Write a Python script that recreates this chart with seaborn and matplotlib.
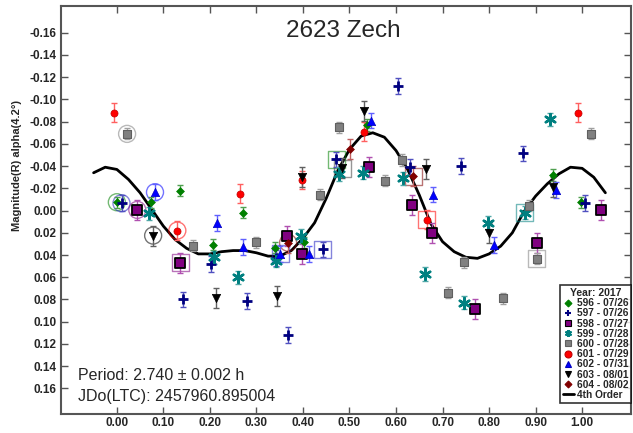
import seaborn as sns
import matplotlib.pyplot as plt
import pandas as pd
from matplotlib.lines import Line2D

sns.set_theme(style="white")
plt.rcParams['font.family'] = ['Liberation Sans', 'DejaVu Sans']

# session data: phase, magnitude
p596 = [0.000, 0.073, 0.136, 0.207, 0.271, 0.340, 0.402, 0.537, 0.938, 0.997]
m596 = [-0.0075, -0.0075, -0.018, 0.0306, 0.0018, 0.0335, 0.0285, -0.077, -0.032, -0.0075]

p597 = [0.010, 0.143, 0.203, 0.280, 0.343, 0.368, 0.442, 0.472, 0.605, 0.630, 0.739, 0.874, 1.007]
m597 = [-0.0066, 0.080, 0.048, 0.0815, 0.0425, 0.112, 0.035, -0.046, -0.112, -0.039, -0.040, -0.0515, -0.007]

p598 = [0.044, 0.136, 0.366, 0.397, 0.543, 0.635, 0.677, 0.770, 0.903, 1.041]
m598 = [-0.0006, 0.047, 0.0228, 0.039, -0.0395, -0.0054, 0.0198, 0.089, 0.029, -0.0006]

p599 = [0.069, 0.209, 0.261, 0.343, 0.396, 0.478, 0.529, 0.614, 0.663, 0.746, 0.797, 0.877, 0.930]
m599 = [0.0024, 0.042, 0.060, 0.045, 0.023, -0.033, -0.034, -0.029, 0.057, 0.083, 0.011, 0.0018, -0.082]

p600 = [0.022, 0.163, 0.300, 0.436, 0.478, 0.577, 0.612, 0.712, 0.747, 0.831, 0.885, 0.903, 1.020]
m600 = [-0.069, 0.0315, 0.0285, -0.0144, -0.075, -0.027, -0.0455, 0.074, 0.0467, 0.079, -0.0045, 0.0434, -0.069]

p601 = [-0.006, 0.130, 0.264, 0.398, 0.532, 0.666, 0.991]
m601 = [-0.088, 0.018, -0.015, -0.0275, -0.071, 0.0084, -0.088]

p602 = [0.082, 0.216, 0.271, 0.351, 0.414, 0.546, 0.680, 0.810, 0.944]
m602 = [-0.0165, 0.0114, 0.033, 0.039, 0.039, -0.081, -0.0144, 0.031, -0.0186]

p603 = [0.078, 0.213, 0.344, 0.399, 0.483, 0.532, 0.665, 0.799, 0.938]
m603 = [0.0225, 0.0785, 0.077, -0.0305, -0.038, -0.090, -0.0375, 0.020, -0.0216]

p604 = [0.368, 0.502, 0.637]
m604 = [0.029, -0.0554, -0.031]

# typical error per session
errs = [0.005, 0.007, 0.009, 0.006, 0.005, 0.0085, 0.007, 0.009, 0.009]

labels = ["596 - 07/26", "597 - 07/26", "598 - 07/27", "599 - 07/28", "600 - 07/28",
          "601 - 07/29", "602 - 07/31", "603 - 08/01", "604 - 08/02"]

# 4th order fit
fit_phase = [-0.05, -0.025, 0.0, 0.025, 0.05, 0.075, 0.10, 0.125, 0.15, 0.175, 0.20, 0.225,
             0.25, 0.275, 0.30, 0.325, 0.35, 0.375, 0.40, 0.425, 0.45, 0.475, 0.50, 0.525,
             0.55, 0.575, 0.60, 0.625, 0.65, 0.675, 0.70, 0.725, 0.75, 0.775, 0.80, 0.825,
             0.85, 0.875, 0.90, 0.925, 0.95, 0.975, 1.0, 1.025, 1.05]
fit_mag = [-0.034, -0.039, -0.037, -0.028, -0.016, -0.001, 0.014, 0.026, 0.034, 0.039, 0.039, 0.037,
           0.036, 0.036, 0.038, 0.041, 0.041, 0.036, 0.025, 0.011, -0.011, -0.036, -0.055, -0.067,
           -0.070, -0.066, -0.054, -0.037, -0.014, 0.012, 0.028, 0.037, 0.042, 0.043, 0.039, 0.032,
           0.020, 0.001, -0.013, -0.024, -0.033, -0.039, -0.038, -0.030, -0.016]

# highlighted points (open rings)
ring_phase = [0.000, 0.010, 0.044, 0.082, 0.078, 0.130, 0.022, 0.368,
              0.136, 0.351, 0.442, 0.472, 0.485, 0.637, 0.666, 0.877, 0.903]
ring_mag = [-0.0075, -0.0066, -0.0006, -0.0165, 0.0225, 0.018, -0.069, 0.029,
            0.047, 0.039, 0.035, -0.046, -0.038, -0.031, 0.0084, 0.0018, 0.0434]
ring_shape = ["o", "o", "o", "o", "o", "o", "o", "o",
              "s", "s", "s", "s", "s", "s", "s", "s", "s"]
ring_color = ["#008000", "#2020c0", "#800080", "#0000ff", "#000000", "#ff0000", "#808080", "#800000",
              "#800080", "#2020c0", "#2020c0", "#008000", "#404040", "#800000", "#ff0000", "#008080", "#808080"]

yticks = [-0.16, -0.14, -0.12, -0.10, -0.08, -0.06, -0.04, -0.02, 0.00,
          0.02, 0.04, 0.06, 0.08, 0.10, 0.12, 0.14, 0.16]
xticks = [0.0, 0.1, 0.2, 0.3, 0.4, 0.5, 0.6, 0.7, 0.8, 0.9, 1.0]

sessions = [(p596, m596), (p597, m597), (p598, m598), (p599, m599), (p600, m600),
            (p601, m601), (p602, m602), (p603, m603), (p604, m604)]
styles = [
    dict(marker="D", color="#008000", s=16, edgecolor="#008000", linewidth=0.5),
    dict(marker="+", color="#000080", s=55, linewidth=2),
    dict(marker="s", color="#800080", s=42, edgecolor="black", linewidth=1.3),
    dict(marker=(6, 2, 0), color="#008080", s=60, linewidth=1.8),
    dict(marker="s", color="#808080", s=36, edgecolor="#606060", linewidth=0.8),
    dict(marker="o", color="#ff0000", s=26, edgecolor="#c00000", linewidth=0.5),
    dict(marker="^", color="#0000ff", s=36, edgecolor="#0000c0", linewidth=0.5),
    dict(marker="v", color="black", s=36, edgecolor="black", linewidth=0.5),
    dict(marker="D", color="#800000", s=16, edgecolor="#800000", linewidth=0.5),
]
err_colors = ["#50a050", "#5050c0", "#b050b0", "#50a8a8", "#a0a0a0",
              "#ff6060", "#6060ff", "#606060", "#c06060"]

fig = plt.figure(figsize=(6.33, 4.33), dpi=100)
ax = fig.add_axes([0.0964, 0.044, 0.9004, 0.942])

# fit curve
sns.lineplot(x=fit_phase, y=fit_mag, ax=ax, color="black", linewidth=2, sort=False, zorder=2)

# rings
rings = pd.DataFrame({"phase": ring_phase, "mag": ring_mag, "shape": ring_shape, "color": ring_color})
for _, r in rings.iterrows():
    ax.scatter(r["phase"], r["mag"], marker=r["shape"], s=150, facecolors="none",
               edgecolors=r["color"], linewidths=1.0, alpha=0.55, zorder=3)

handles = []
for (ph, mg), st, ec, er, lab in zip(sessions, styles, err_colors, errs, labels):
    df = pd.DataFrame({"phase": ph, "mag": mg})
    ax.errorbar(df["phase"], df["mag"], yerr=er, fmt="none", ecolor=ec,
                elinewidth=1, capsize=2.5, capthick=1, zorder=3)
    sns.scatterplot(data=df, x="phase", y="mag", ax=ax, zorder=4, legend=False, **st)
    small = st["marker"] == "D"
    handles.append(Line2D([], [], linestyle="none", marker=st["marker"], color=st["color"],
                          markeredgecolor=st.get("edgecolor", st["color"]),
                          markersize=3.5 if small else 5,
                          markeredgewidth=1.5 if st["marker"] in ["+", (6, 2, 0)] else 0.8))
handles.append(Line2D([], [], color="black", linewidth=2))

ax.set_xlim(-0.12, 1.105)
ax.set_ylim(0.183, -0.184)
ax.set_xticks(xticks)
ax.set_xticklabels([f"{t:.2f}" for t in xticks])
ax.set_yticks(yticks)
ax.set_yticklabels([f"{t:.2f}" for t in yticks])
ax.tick_params(direction="in", length=5, width=1, top=True, right=True, bottom=True, left=True,
               labelsize=8.5, color="#555555")
ax.tick_params(axis="x", pad=2)
ax.tick_params(axis="y", pad=3)
for lbl in ax.get_xticklabels() + ax.get_yticklabels():
    lbl.set_fontweight("bold")
for sp in ax.spines.values():
    sp.set_color("#555555")
    sp.set_linewidth(1.5)

ax.set_xlabel("")
ax.set_ylabel("Magnitude(R) alpha(4.2°)", fontsize=8, fontweight="bold")
ax.yaxis.set_label_coords(-0.068, 0.61)

ax.text(0.496, 0.94, "2623 Zech", transform=ax.transAxes, ha="center", va="center", fontsize=17.5)
ax.text(0.03, 0.095, "Period: 2.740 ± 0.002 h", transform=ax.transAxes, fontsize=11.5, va="center")
ax.text(0.03, 0.043, "JDo(LTC): 2457960.895004", transform=ax.transAxes, fontsize=11.5, va="center")

leg = ax.legend(handles, labels + ["4th Order"], loc="lower right", bbox_to_anchor=(1.0, 0.028),
                title="Year: 2017", fontsize=7.3, title_fontsize=7.5, frameon=True, fancybox=False,
                edgecolor="black", handlelength=1.1, handletextpad=0.3, borderpad=0.25,
                labelspacing=0.02, borderaxespad=0.0)
leg.get_frame().set_linewidth(1.2)
leg.get_title().set_fontweight("bold")
for t in leg.get_texts():
    t.set_fontweight("bold")

fig.savefig("out.png", dpi=100)
